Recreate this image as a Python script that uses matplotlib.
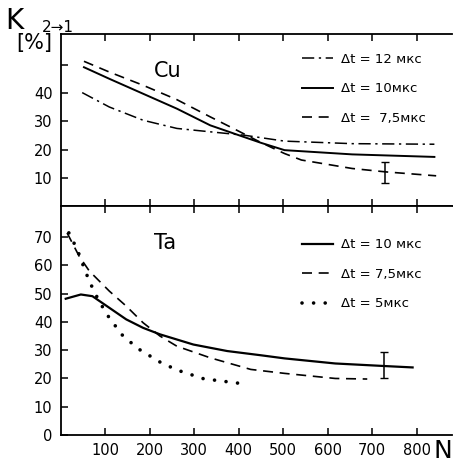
#!/usr/bin/env python3
"""
K(2->1) versus N for Cu and Ta at several pulse spacings.
"""

import matplotlib
matplotlib.use('Agg')
import matplotlib.pyplot as plt

# Cu panel
cu_n_12 = [48, 109, 185, 261, 336, 412, 503, 655, 840]
cu_k_12 = [40.2, 35.1, 30.4, 27.5, 26.3, 25.1, 23.0, 22.1, 21.9]
cu_n_10 = [52, 109, 185, 261, 336, 389, 450, 503, 655, 840]
cu_k_10 = [49.2, 45.1, 39.8, 34.5, 28.6, 25.7, 22.4, 19.8, 18.3, 17.4]
cu_n_75 = [52, 109, 185, 261, 336, 389, 450, 503, 541, 655, 730, 844]
cu_k_75 = [51.3, 47.5, 42.8, 37.7, 31.6, 27.4, 22.5, 18.6, 16.3, 13.3, 12.1, 10.7]
cu_err_n, cu_err_k, cu_err = 730, 11.85, 3.85

# Ta panel
ta_n_10 = [11, 45, 71, 109, 147, 185, 223, 298, 374, 450, 503, 617, 727, 791]
ta_k_10 = [48.2, 49.7, 49.1, 45.0, 40.9, 37.9, 35.6, 32.0, 29.7, 28.2, 27.1, 25.3, 24.4, 23.9]
ta_n_75 = [14, 41, 64, 109, 147, 185, 223, 261, 336, 427, 503, 617, 689]
ta_k_75 = [71.5, 63.3, 58.0, 50.9, 45.6, 39.7, 35.0, 31.4, 27.3, 23.2, 21.8, 20.0, 19.8]
ta_n_5 = [18, 37, 48, 64, 86, 109, 139, 174, 223, 261, 321, 401]
ta_k_5 = [71.5, 65.6, 60.9, 54.4, 47.3, 41.4, 35.2, 30.5, 25.8, 23.0, 19.9, 18.3]
ta_err_n, ta_err_k, ta_err = 727, 24.7, 4.7

x_ticks = [100, 200, 300, 400, 500, 600, 700, 800]

plt.rcParams['font.family'] = ['DejaVu Sans']

fig = plt.figure(figsize=(4.54, 4.65), dpi=100)
ax1 = fig.add_axes([0.134, 0.557, 0.862, 0.370])
ax2 = fig.add_axes([0.134, 0.0645, 0.862, 0.4925])

dashdot = (0, (8, 3, 1.5, 3))
dashed = (0, (6, 4))
dotted = (0, (0.01, 3.2))

# Cu curves
ax1.plot(cu_n_12, cu_k_12, color='black', lw=1.1, linestyle=dashdot, label='Δt = 12 мкс')
ax1.plot(cu_n_10, cu_k_10, color='black', lw=1.4, label='Δt = 10мкс')
ax1.plot(cu_n_75, cu_k_75, color='black', lw=1.2, linestyle=dashed, label='Δt =  7,5мкс')
ax1.errorbar([cu_err_n], [cu_err_k], yerr=[cu_err], color='black', lw=1.1, capsize=3)

# Ta curves
ax2.plot(ta_n_10, ta_k_10, color='black', lw=1.6, label='Δt = 10 мкс')
ax2.plot(ta_n_75, ta_k_75, color='black', lw=1.2, linestyle=dashed, label='Δt = 7,5мкс')
ax2.plot(ta_n_5, ta_k_5, color='black', lw=2.6, linestyle=dotted,
         dash_capstyle='round', label='Δt = 5мкс')
ax2.errorbar([ta_err_n], [ta_err_k], yerr=[ta_err], color='black', lw=1.1, capsize=3)

for ax in (ax1, ax2):
    ax.set_xlim(0, 880)
    ax.set_xticks(x_ticks)
    ax.spines['right'].set_visible(False)
    for s in ax.spines.values():
        s.set_linewidth(1.3)
    ax.tick_params(direction='in', top=True, bottom=True, length=5, width=1.1,
                   labelsize=10.5, pad=6)

ax1.legend(loc='upper left', bbox_to_anchor=(0.585, 0.96), frameon=False,
           fontsize=9.5, handlelength=2.4, handletextpad=0.6, labelspacing=1.25)
ax2.legend(loc='upper left', bbox_to_anchor=(0.585, 0.91), frameon=False,
           fontsize=9.5, handlelength=2.4, handletextpad=0.6, labelspacing=1.25)

ax1.set_ylim(0, 61)
ax1.set_yticks([10, 20, 30, 40, 50])
ax1.set_yticklabels(['10', '20', '30', '40', ''])
ax1.tick_params(labelbottom=False)
ax1.text(240, 48, 'Cu', fontsize=15, ha='center', va='center')

ax2.set_ylim(0, 81)
ax2.set_yticks([0, 10, 20, 30, 40, 50, 60, 70])
ax2.text(235, 68, 'Ta', fontsize=15, ha='center', va='center')

fig.text(0.012, 0.985, 'K', fontsize=20, ha='left', va='top')
fig.text(0.092, 0.957, '2→1', fontsize=11, ha='left', va='top')
fig.text(0.035, 0.93, '[%]', fontsize=15, ha='left', va='top')
fig.text(0.997, 0.005, 'N', fontsize=18, ha='right', va='bottom')

plt.savefig('out.png', dpi=100)
plt.close()
